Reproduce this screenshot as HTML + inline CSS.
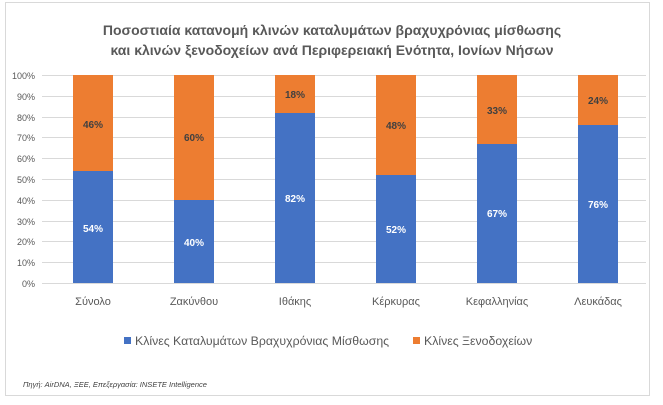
<!DOCTYPE html>
<html><head><meta charset="utf-8"><style>
body{margin:0;background:#fff;}
svg text{font-family:"Liberation Sans","DejaVu Sans",sans-serif;}
</style></head><body>
<svg width="663" height="400" xmlns="http://www.w3.org/2000/svg">
<rect x="5.5" y="2.5" width="644" height="393" fill="#fff" stroke="#d9d9d9"/>
<text x="332" y="35" text-anchor="middle" font-size="14" font-weight="bold" fill="#595959">Ποσοστιαία κατανομή κλινών καταλυμάτων βραχυχρόνιας μίσθωσης</text>
<text x="332" y="55" text-anchor="middle" font-size="14" font-weight="bold" fill="#595959">και κλινών ξενοδοχείων ανά Περιφερειακή Ενότητα, Ιονίων Νήσων</text>
<g stroke="#d9d9d9" stroke-width="1">
<line x1="42" x2="646" y1="75.5" y2="75.5"/><line x1="42" x2="646" y1="96.5" y2="96.5"/>
<line x1="42" x2="646" y1="117.5" y2="117.5"/><line x1="42" x2="646" y1="137.5" y2="137.5"/>
<line x1="42" x2="646" y1="158.5" y2="158.5"/><line x1="42" x2="646" y1="179.5" y2="179.5"/>
<line x1="42" x2="646" y1="200.5" y2="200.5"/><line x1="42" x2="646" y1="221.5" y2="221.5"/>
<line x1="42" x2="646" y1="241.5" y2="241.5"/><line x1="42" x2="646" y1="262.5" y2="262.5"/>
<line x1="42" x2="646" y1="283.5" y2="283.5"/>
</g>
<g font-size="9" fill="#595959" text-anchor="end">
<text x="35" y="79">100%</text><text x="35" y="100">90%</text><text x="35" y="121">80%</text>
<text x="35" y="141">70%</text><text x="35" y="162">60%</text><text x="35" y="183">50%</text>
<text x="35" y="204">40%</text><text x="35" y="225">30%</text><text x="35" y="245">20%</text>
<text x="35" y="266">10%</text><text x="35" y="287">0%</text>
</g>
<g>
<rect x="73" y="75" width="40" height="96" fill="#ed7d31"/><rect x="73" y="171" width="40" height="112" fill="#4472c4"/>
<rect x="174" y="75" width="40" height="125" fill="#ed7d31"/><rect x="174" y="200" width="40" height="83" fill="#4472c4"/>
<rect x="275" y="75" width="40" height="38" fill="#ed7d31"/><rect x="275" y="113" width="40" height="170" fill="#4472c4"/>
<rect x="376" y="75" width="40" height="100" fill="#ed7d31"/><rect x="376" y="175" width="40" height="108" fill="#4472c4"/>
<rect x="477" y="75" width="40" height="69" fill="#ed7d31"/><rect x="477" y="144" width="40" height="139" fill="#4472c4"/>
<rect x="578" y="75" width="40" height="50" fill="#ed7d31"/><rect x="578" y="125" width="40" height="158" fill="#4472c4"/>
</g>
<g font-size="10" font-weight="bold" text-anchor="middle">
<g fill="#404040">
<text x="93" y="128">46%</text><text x="194" y="141">60%</text><text x="295" y="98">18%</text>
<text x="396" y="129">48%</text><text x="497" y="114">33%</text><text x="598" y="104">24%</text>
</g>
<g fill="#fff">
<text x="93" y="232">54%</text><text x="194" y="246">40%</text><text x="295" y="202">82%</text>
<text x="396" y="233">52%</text><text x="497" y="217">67%</text><text x="598" y="208">76%</text>
</g>
</g>
<g font-size="11" fill="#595959" text-anchor="middle">
<text x="93" y="305">Σύνολο</text><text x="194" y="305">Ζακύνθου</text><text x="295" y="305">Ιθάκης</text>
<text x="396" y="305">Κέρκυρας</text><text x="497" y="305">Κεφαλληνίας</text><text x="598" y="305">Λευκάδας</text>
</g>
<rect x="124" y="337" width="7" height="7" fill="#4472c4"/>
<text x="135" y="345" font-size="12.3" fill="#595959">Κλίνες Καταλυμάτων Βραχυχρόνιας Μίσθωσης</text>
<rect x="413" y="337" width="7" height="7" fill="#ed7d31"/>
<text x="424" y="345" font-size="12.3" fill="#595959">Κλίνες Ξενοδοχείων</text>
<text x="23" y="387" font-size="7.5" font-style="italic" fill="#404040">Πηγή: AirDNA, ΞΕΕ, Επεξεργασία: INSETE Intelligence</text>
</svg>
</body></html>
